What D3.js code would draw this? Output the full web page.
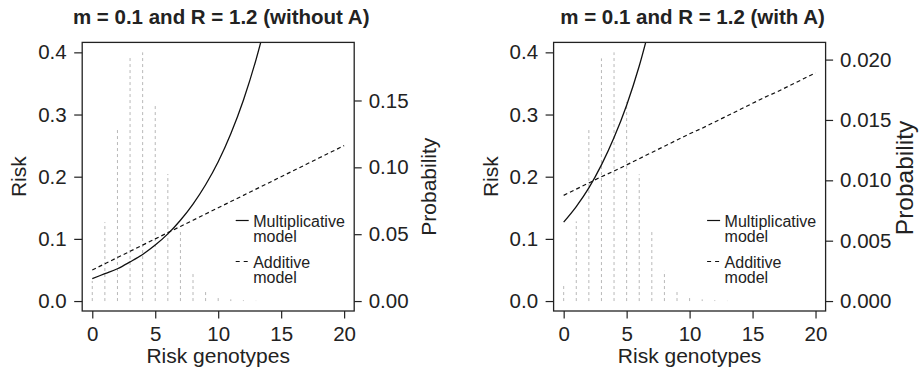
<!DOCTYPE html>
<html>
<head>
<meta charset="utf-8">
<script src="https://cdn.jsdelivr.net/npm/d3@7/dist/d3.min.js"></script>
<style>
	body { margin: 0; background: #fff; }
	svg { display: block; font-family: "Liberation Sans", Arial, Helvetica, sans-serif; }
</style>
</head>
<body>
<script>

// risk genotypes (x) and model risks
var riskGenotypes = [0, 1, 2, 3, 4, 5, 6, 7, 8, 9, 10, 11, 12, 13, 14, 15, 16, 17, 18, 19, 20]
var multRiskWithoutA = [0.036, 0.044, 0.052, 0.063, 0.075, 0.090, 0.108, 0.130, 0.156, 0.187, 0.224, 0.269, 0.323, 0.388, 0.465]
var addRiskWithoutA = [0.050, 0.060, 0.070, 0.080, 0.090, 0.100, 0.110, 0.120, 0.130, 0.140, 0.150, 0.160, 0.170, 0.180, 0.190, 0.200, 0.210, 0.220, 0.230, 0.240, 0.250]
var multRiskWithA = [0.127, 0.152, 0.182, 0.219, 0.263, 0.315, 0.378, 0.454]
var addRiskWithA = [0.170, 0.180, 0.190, 0.200, 0.209, 0.219, 0.229, 0.239, 0.249, 0.259, 0.269, 0.278, 0.288, 0.298, 0.308, 0.318, 0.328, 0.337, 0.347, 0.357, 0.367]

// genotype probabilities (grey dashed bars)
var probGenotypes = [0, 1, 2, 3, 4, 5, 6, 7, 8, 9, 10, 11, 12, 13]
var probWithoutA = [0.015, 0.059, 0.129, 0.182, 0.186, 0.148, 0.095, 0.052, 0.022, 0.0075, 0.0032, 0.0013, 0.0006, 0.0002]
var probWithA = [0.0014, 0.0066, 0.0143, 0.0201, 0.0206, 0.0165, 0.0105, 0.0058, 0.0025, 0.0008, 0.00036, 0.00014, 0.00007, 0.00002]

// ticks and labels
var genotypeTicks = [0, 5, 10, 15, 20]
var riskTicks = [0, 0.1, 0.2, 0.3, 0.4]
var probTicksWithoutA = [0, 0.05, 0.10, 0.15]
var probTicksWithA = [0, 0.005, 0.010, 0.015, 0.020]
var panelTitles = ['m = 0.1 and R = 1.2 (without A)', 'm = 0.1 and R = 1.2 (with A)']
var legendLabels = [['Multiplicative', 'model'], ['Additive', 'model']]

var width = 922, height = 369
var box = { top: 42.4, width: 272, height: 268.6 }

var panels = [
	{ left: 82.2, title: panelTitles[0], mult: multRiskWithoutA, add: addRiskWithoutA, prob: probWithoutA,
		probTicks: probTicksWithoutA, probFormat: d3.format('.2f'), probFont: 21, probY: 186.7, probOffset: 81.5 },
	{ left: 553.6, title: panelTitles[1], mult: multRiskWithA, add: addRiskWithA, prob: probWithA,
		probTicks: probTicksWithA, probFormat: d3.format('.3f'), probFont: 24.5, probY: 178, probOffset: 87.5 }
]

var svg = d3.select('body').append('svg')
	.attr('width', width)
	.attr('height', height)

panels.forEach(function(p, i){
	var right = p.left + box.width,
		bottom = box.top + box.height

	// R style 4% padding around the data range
	var x = d3.scaleLinear().domain([-0.8, 20.8]).range([p.left, right])
	var y = d3.scaleLinear().domain([-0.016, 0.416]).range([bottom, box.top])
	var pmax = d3.max(p.prob)
	var yp = d3.scaleLinear().domain([-0.04 * pmax, 1.04 * pmax]).range([bottom, box.top])

	var g = svg.append('g')

	g.append('clipPath').attr('id', 'clip' + i)
		.append('rect')
		.attr('x', p.left).attr('y', box.top)
		.attr('width', box.width).attr('height', box.height)

	// probability bars
	g.selectAll('.bar').data(p.prob).enter().append('line')
		.attr('class', 'bar')
		.attr('x1', function(d, j){ return x(probGenotypes[j]) })
		.attr('x2', function(d, j){ return x(probGenotypes[j]) })
		.attr('y1', yp(0))
		.attr('y2', function(d){ return yp(d) })
		.attr('stroke', '#b8b8b8')
		.attr('stroke-width', 1)
		.attr('stroke-dasharray', '3,3')

	var line = d3.line()
		.x(function(d, j){ return x(riskGenotypes[j]) })
		.y(function(d){ return y(d) })

	g.append('path')
		.datum(p.add)
		.attr('clip-path', 'url(#clip' + i + ')')
		.attr('d', line)
		.attr('fill', 'none')
		.attr('stroke', '#111')
		.attr('stroke-width', 1.2)
		.attr('stroke-dasharray', '4,3')

	g.append('path')
		.datum(p.mult)
		.attr('clip-path', 'url(#clip' + i + ')')
		.attr('d', line.curve(d3.curveMonotoneX))
		.attr('fill', 'none')
		.attr('stroke', '#111')
		.attr('stroke-width', 1.3)

	// box
	g.append('rect')
		.attr('x', p.left).attr('y', box.top)
		.attr('width', box.width).attr('height', box.height)
		.attr('fill', 'none')
		.attr('stroke', '#222')
		.attr('stroke-width', 1.3)

	// axes
	var ax = g.append('g')
		.attr('transform', 'translate(0,' + bottom + ')')
		.call(d3.axisBottom(x).tickValues(genotypeTicks).tickSize(7.5).tickPadding(8).tickSizeOuter(0))
	var ay = g.append('g')
		.attr('transform', 'translate(' + p.left + ',0)')
		.call(d3.axisLeft(y).tickValues(riskTicks).tickFormat(d3.format('.1f')).tickSize(8).tickPadding(7.5).tickSizeOuter(0))
	var ar = g.append('g')
		.attr('transform', 'translate(' + right + ',0)')
		.call(d3.axisRight(yp).tickValues(p.probTicks).tickFormat(p.probFormat).tickSize(7.5).tickPadding(7).tickSizeOuter(0))

	;[ax, ay, ar].forEach(function(a){
		a.attr('font-family', null).attr('font-size', 20.5)
		a.select('.domain').remove()
		a.selectAll('.tick line').attr('stroke', '#222').attr('stroke-width', 1.2)
		a.selectAll('.tick text').attr('fill', '#222')
	})

	// titles and axis labels
	g.append('text')
		.attr('x', (p.left + right) / 2 + 3).attr('y', 24)
		.attr('text-anchor', 'middle')
		.attr('font-weight', 'bold')
		.attr('font-size', 20.5)
		.attr('fill', '#222')
		.text(p.title)

	g.append('text')
		.attr('x', x(10)).attr('y', 363)
		.attr('text-anchor', 'middle')
		.attr('font-size', 21)
		.attr('fill', '#222')
		.text('Risk genotypes')

	g.append('text')
		.attr('transform', 'translate(' + (p.left - 56) + ',176.7) rotate(-90)')
		.attr('text-anchor', 'middle')
		.attr('font-size', 21)
		.attr('fill', '#222')
		.text('Risk')

	g.append('text')
		.attr('transform', 'translate(' + (right + p.probOffset) + ',' + p.probY + ') rotate(-90)')
		.attr('text-anchor', 'middle')
		.attr('font-size', p.probFont)
		.attr('fill', '#222')
		.text('Probability')

	// legend
	var lg = g.append('g').attr('transform', 'translate(' + (right - 101) + ',0)')
	var legendY = [226.5, 267.5]
	legendLabels.forEach(function(lab, k){
		lg.append('line')
			.attr('x1', -17.5).attr('x2', -4.5)
			.attr('y1', legendY[k] - 6).attr('y2', legendY[k] - 6)
			.attr('stroke', '#111')
			.attr('stroke-width', 1.2)
			.attr('stroke-dasharray', k == 0 ? null : '4,4')
		lg.selectAll('.lab' + k).data(lab).enter().append('text')
			.attr('x', 0)
			.attr('y', function(d, j){ return legendY[k] + j * 15.5 })
			.attr('font-size', 16)
			.attr('fill', '#222')
			.text(function(d){ return d })
	})
})

</script>
</body>
</html>
